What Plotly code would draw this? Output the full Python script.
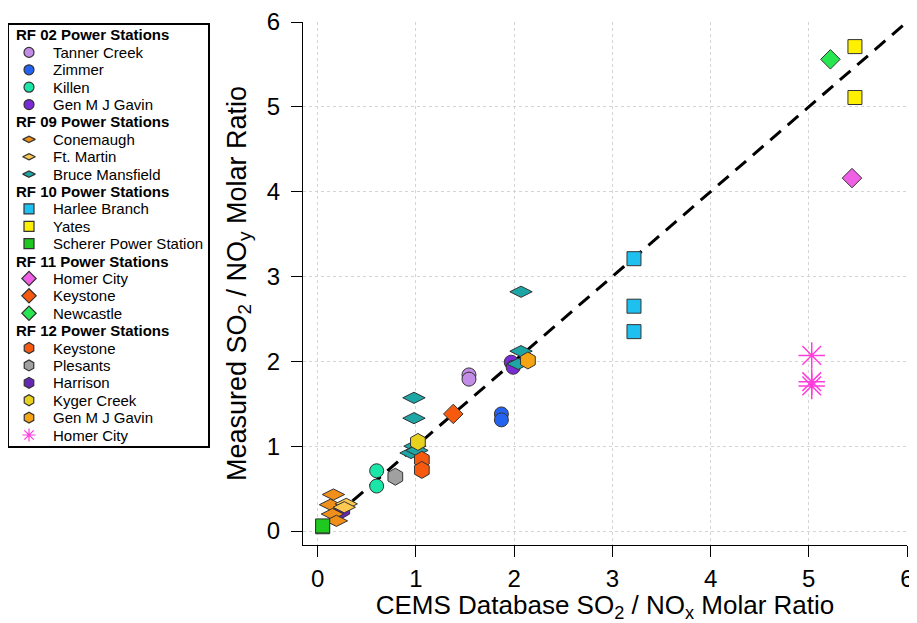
import plotly.graph_objects as go

# ---------------- data ----------------
tanner_x = [1.54, 1.54]; tanner_y = [1.84, 1.79]
zimmer_x = [1.87, 1.87]; zimmer_y = [1.38, 1.31]
killen_x = [0.60, 0.60]; killen_y = [0.71, 0.53]
gavin02_x = [1.97, 1.99]; gavin02_y = [1.99, 1.93]

conemaugh_x = [0.16, 0.13, 0.15, 0.19]; conemaugh_y = [0.43, 0.31, 0.20, 0.12]
ftmartin_x = [0.29, 0.27]; ftmartin_y = [0.32, 0.28]
bruce_x = [2.07, 2.07, 2.04, 0.98, 0.98, 0.99, 0.95, 1.01]
bruce_y = [2.82, 2.12, 1.97, 1.57, 1.33, 1.00, 0.92, 0.95]

harlee_x = [3.22, 3.22, 3.22]; harlee_y = [3.21, 2.65, 2.35]
yates_x = [5.47, 5.47]; yates_y = [5.71, 5.11]
scherer_x = [0.05, 0.05]; scherer_y = [0.05, 0.06]

homer11_x = [5.44]; homer11_y = [4.16]
keystone11_x = [1.38]; keystone11_y = [1.38]
newcastle_x = [5.22]; newcastle_y = [5.56]

keystone12_x = [1.06, 1.06]; keystone12_y = [0.84, 0.72]
plesants_x = [0.79]; plesants_y = [0.64]
harrison_x = [0.25]; harrison_y = [0.25]
kyger_x = [1.02]; kyger_y = [1.05]
gavin12_x = [2.14]; gavin12_y = [2.01]
homer12_x = [5.03, 5.03, 5.03]; homer12_y = [2.07, 1.76, 1.71]

line_x = [0, 6]; line_y = [0, 6]
ticks = [0, 1, 2, 3, 4, 5, 6]

groups = ["RF 02 Power Stations", "RF 09 Power Stations", "RF 10 Power Stations",
          "RF 11 Power Stations", "RF 12 Power Stations"]

# ---------------- styles ----------------
EDGE = dict(color="#333333", width=1)
series = [
    # group, name, x, y, symbol, color, plot size, legend-key size
    (0, "Tanner Creek", tanner_x, tanner_y, "circle", "#C38CE6", 14, 10),
    (0, "Zimmer", zimmer_x, zimmer_y, "circle", "#2463F0", 14, 10),
    (0, "Killen", killen_x, killen_y, "circle", "#1AE6A8", 14, 10),
    (0, "Gen M J Gavin", gavin02_x, gavin02_y, "circle", "#7A2BD6", 14, 10),
    (1, "Conemaugh", conemaugh_x, conemaugh_y, "diamond-wide", "#F0901A", 16, 9),
    (1, "Ft. Martin", ftmartin_x, ftmartin_y, "diamond-wide", "#FFC850", 16, 9),
    (1, "Bruce Mansfield", bruce_x, bruce_y, "diamond-wide", "#1EA5A5", 16, 9),
    (2, "Harlee Branch", harlee_x, harlee_y, "square", "#1EC0F0", 14, 10),
    (2, "Yates", yates_x, yates_y, "square", "#FFF000", 14, 10),
    (2, "Scherer Power Station", scherer_x, scherer_y, "square", "#1EC81E", 14, 10),
    (3, "Homer City", homer11_x, homer11_y, "diamond", "#F060E6", 15, 11),
    (3, "Keystone", keystone11_x, keystone11_y, "diamond", "#F55A0F", 15, 11),
    (3, "Newcastle", newcastle_x, newcastle_y, "diamond", "#28E650", 15, 11),
    (4, "Keystone", keystone12_x, keystone12_y, "hexagon", "#F55A0F", 17, 11),
    (4, "Plesants", plesants_x, plesants_y, "hexagon", "#A0A0A0", 17, 11),
    (4, "Harrison", harrison_x, harrison_y, "hexagon", "#6428B4", 17, 11),
    (4, "Kyger Creek", kyger_x, kyger_y, "hexagon", "#E6D21E", 17, 11),
    (4, "Gen M J Gavin", gavin12_x, gavin12_y, "hexagon", "#F5A514", 17, 11),
    (4, "Homer City", homer12_x, homer12_y, "asterisk-open", "#FF3CDC", 22, 11),
]
# drawing order (Harrison sits beneath the RF 09 diamonds in the original)
draw_order = [0, 1, 2, 3, 15, 4, 5, 6, 7, 8, 9, 10, 11, 12, 13, 14, 16, 17, 18]

def edge_for(sym, color):
    return dict(color=color, width=1.5) if sym.startswith("asterisk") else EDGE

# ---------------- figure ----------------
# Page body adds an 8px offset, so the figure is sized 909x615 to fit the window.
W, H = 909, 615
ML, MR, MT, MB = 0, 10, 14, 78
PW, PH = W - ML - MR, H - MT - MB
PLOT_LEFT = 295  # figure px where the main plot area begins

fig = go.Figure()
fig.add_trace(go.Scatter(x=line_x, y=line_y, mode="lines",
                         line=dict(color="black", width=3, dash="14px,9px"),
                         showlegend=False, hoverinfo="skip"))

for i in draw_order:
    g, name, xs, ys, sym, col, sz, _ = series[i]
    fig.add_trace(go.Scatter(
        x=xs, y=ys, mode="markers", name=f"{groups[g]}: {name}",
        marker=dict(symbol=sym, color=col, size=sz, opacity=1,
                    line=edge_for(sym, col)),
        showlegend=False))

# ---------------- legend panel (its own small axes) ----------------
KEY_X, TEXT_X, HEAD_X = 20, 42, 5
rows = []  # (label, is_header, series index or None)
for gi, gname in enumerate(groups):
    rows.append((gname, True, None))
    for si, s in enumerate(series):
        if s[0] == gi:
            rows.append((s[1], False, si))

key_rows = [r for r, row in enumerate(rows) if not row[1]]
key_series = [series[row[2]] for row in rows if not row[1]]
fig.add_trace(go.Scatter(
    x=[KEY_X] * len(key_rows), y=key_rows, mode="markers",
    marker=dict(symbol=[s[4] for s in key_series],
                color=[s[5] for s in key_series],
                size=[s[7] for s in key_series], opacity=1,
                line=dict(color=[s[5] if s[4].startswith("asterisk") else "#333333"
                                 for s in key_series], width=1.2)),
    xaxis="x2", yaxis="y2", showlegend=False, hoverinfo="skip"))

annotations = []
for r, (label, header, _) in enumerate(rows):
    annotations.append(dict(
        x=HEAD_X if header else TEXT_X, y=r, xref="x2", yref="y2",
        text=f"<b>{label}</b>" if header else label, showarrow=False,
        xanchor="left", yanchor="middle",
        font=dict(family="Liberation Sans, Arial", size=15, color="black")))

# legend box in figure pixels
BOX_L, BOX_R, BOX_T, BOX_B = 1, 200, 17, 438
ROW0, ROW_STEP = 27, (427 - 27) / (len(rows) - 1)

axis_common = dict(
    tickvals=ticks, ticks="outside", ticklen=11, tickwidth=1.2, tickcolor="black",
    showline=True, linecolor="black", linewidth=1.2, zeroline=False,
    showgrid=True, gridcolor="#d4d4d4", griddash="dot", gridwidth=1,
    tickfont=dict(family="Liberation Sans, Arial", size=24, color="black"),
)

box_axis = dict(showline=True, mirror=True, linecolor="black", linewidth=1.5,
                showgrid=False, zeroline=False, showticklabels=False, ticks="",
                fixedrange=True)

fig.update_layout(
    width=W, height=H,
    margin=dict(l=ML, r=MR, t=MT, b=MB),
    plot_bgcolor="white", paper_bgcolor="white",
    font=dict(family="Liberation Sans, Arial", color="black"),
    showlegend=False,
    xaxis=dict(domain=[(PLOT_LEFT - ML) / PW, 1], range=[-0.15, 6], **axis_common,
               ticklabelstandoff=1,
               title=dict(text="CEMS Database SO<sub>2</sub> / NO<sub>x</sub> Molar Ratio",
                          font=dict(size=26), standoff=3)),
    yaxis=dict(range=[-0.165, 6], **axis_common, ticklabelstandoff=6,
               title=dict(text="Measured SO<sub>2</sub> / NO<sub>y</sub> Molar Ratio",
                          font=dict(size=27), standoff=12)),
    xaxis2=dict(domain=[(BOX_L - ML) / PW, (BOX_R - ML) / PW], anchor="y2",
                range=[0, BOX_R - BOX_L], **box_axis),
    yaxis2=dict(domain=[(H - MB - BOX_B) / PH, (H - MB - BOX_T) / PH], anchor="x2",
                range=[(BOX_B - ROW0) / ROW_STEP, (BOX_T - ROW0) / ROW_STEP],
                **box_axis),
    annotations=annotations,
)

fig.write_html("out.html")
